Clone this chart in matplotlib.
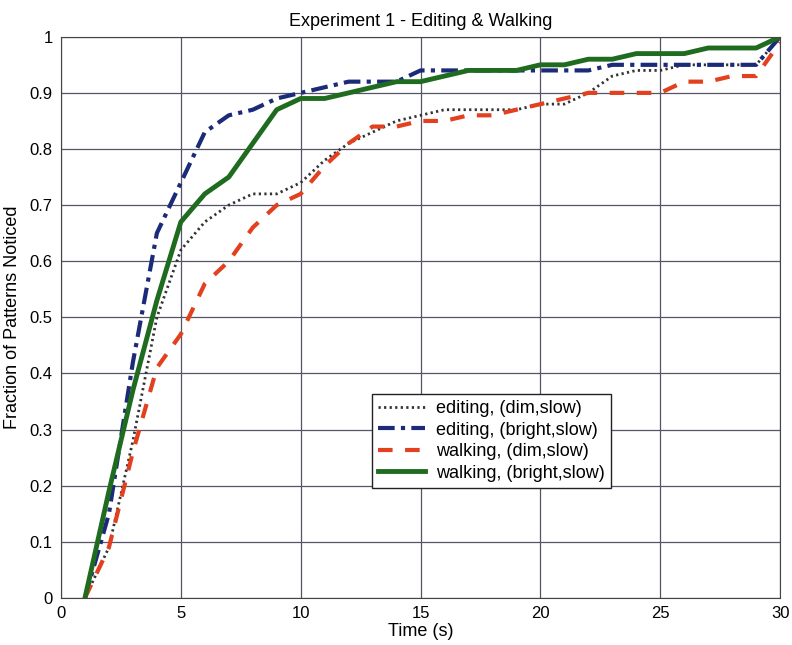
import numpy as np
import matplotlib
matplotlib.use("Agg")
import matplotlib.pyplot as plt

plt.rcParams['font.family'] = ['Liberation Sans', 'DejaVu Sans']

t = np.arange(1, 31)
editing_dim = [0, 0.09, 0.28, 0.50, 0.62, 0.67, 0.70, 0.72, 0.72, 0.74,
               0.78, 0.81, 0.83, 0.85, 0.86, 0.87, 0.87, 0.87, 0.87, 0.88,
               0.88, 0.90, 0.93, 0.94, 0.94, 0.95, 0.95, 0.95, 0.95, 1.0]
editing_bright = [0, 0.15, 0.42, 0.65, 0.74, 0.83, 0.86, 0.87, 0.89, 0.90,
                  0.91, 0.92, 0.92, 0.92, 0.94, 0.94, 0.94, 0.94, 0.94, 0.94,
                  0.94, 0.94, 0.95, 0.95, 0.95, 0.95, 0.95, 0.95, 0.95, 1.0]
walking_dim = [0, 0.09, 0.26, 0.41, 0.47, 0.56, 0.60, 0.66, 0.70, 0.72,
               0.77, 0.81, 0.84, 0.84, 0.85, 0.85, 0.86, 0.86, 0.87, 0.88,
               0.89, 0.90, 0.90, 0.90, 0.90, 0.92, 0.92, 0.93, 0.93, 0.99]
walking_bright = [0, 0.19, 0.37, 0.53, 0.67, 0.72, 0.75, 0.81, 0.87, 0.89,
                  0.89, 0.90, 0.91, 0.92, 0.92, 0.93, 0.94, 0.94, 0.94, 0.95,
                  0.95, 0.96, 0.96, 0.97, 0.97, 0.97, 0.98, 0.98, 0.98, 1.0]
labels = ['editing, (dim,slow)', 'editing, (bright,slow)',
          'walking, (dim,slow)', 'walking, (bright,slow)']

fig = plt.figure(figsize=(7.92, 6.45), dpi=100)
ax = fig.add_axes([0.077, 0.073, 0.908, 0.870])

ax.plot(t, editing_dim, color='#333333', lw=2, ls=(0, (0.8, 1.2)), label=labels[0])
ax.plot(t, editing_bright, color='#1c2a7a', lw=3, ls=(0, (4, 1.5, 1, 1.5)), label=labels[1])
ax.plot(t, walking_dim, color='#e2401e', lw=3, ls=(0, (3.5, 3)), label=labels[2])
ax.plot(t, walking_bright, color='#1f6b1f', lw=3.5, ls='-', label=labels[3])

ax.set_xlim(0, 30)
ax.set_ylim(0, 1)
ax.set_xticks(range(0, 31, 5))
ax.set_yticks(np.arange(0, 1.01, 0.1))
ax.set_yticklabels(['0', '0.1', '0.2', '0.3', '0.4', '0.5', '0.6', '0.7', '0.8', '0.9', '1'])
ax.grid(True, color='#555566', lw=0.9)
ax.tick_params(labelsize=12, direction='in', length=0, pad=6)
for s in ax.spines.values():
    s.set_color('#444444')

ax.set_xlabel('Time (s)', fontsize=13, labelpad=1)
ax.set_ylabel('Fraction of Patterns Noticed', fontsize=13, labelpad=6)
ax.set_title('Experiment 1 - Editing & Walking', fontsize=13, pad=8)

leg = ax.legend(loc='lower left', bbox_to_anchor=(0.42, 0.18), fontsize=13,
                fancybox=False, framealpha=1, edgecolor='#222222',
                handlelength=2.6, borderpad=0.35, labelspacing=0.25, handletextpad=0.6)
leg.get_frame().set_linewidth(1.0)

fig.savefig('out.png', dpi=100)
